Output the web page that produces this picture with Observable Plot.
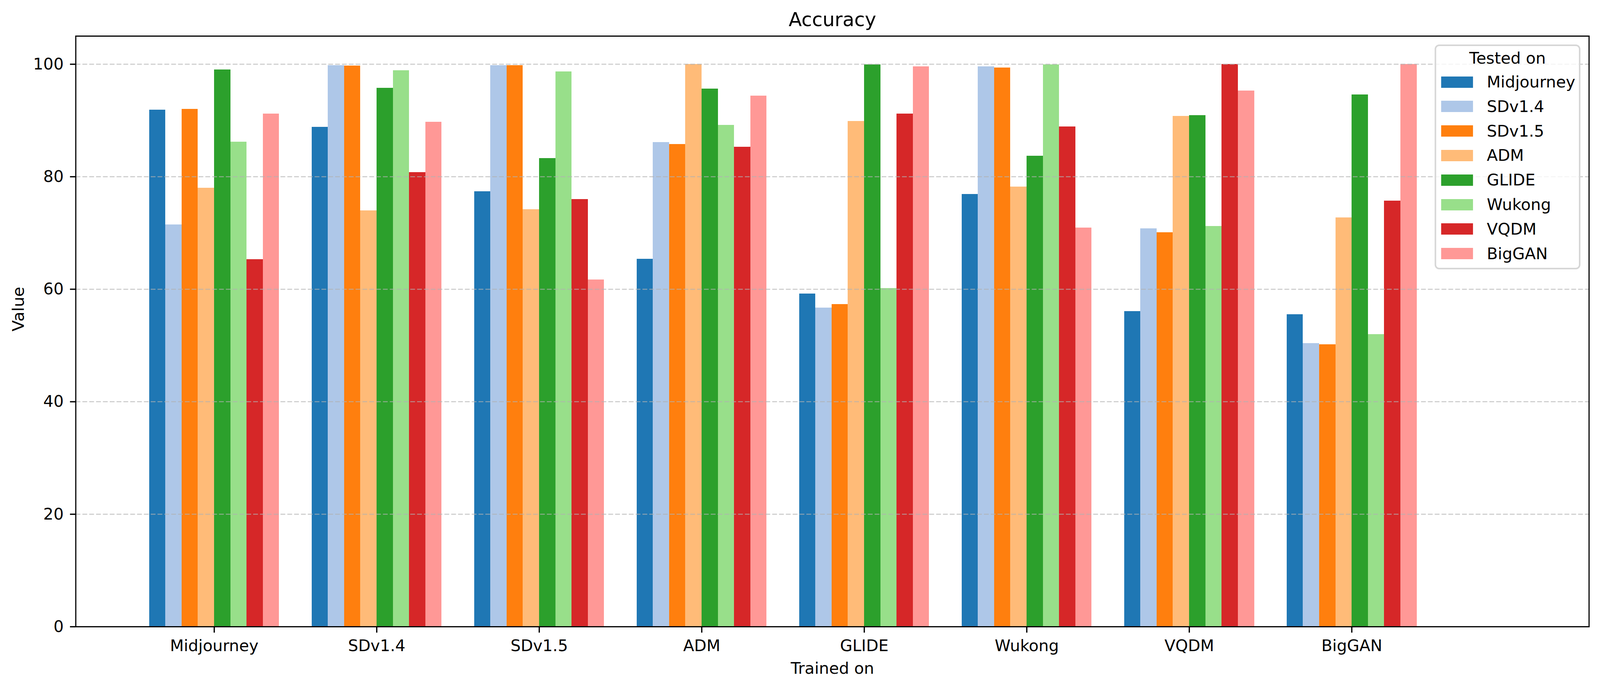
<!DOCTYPE html>
<html>
<head>
<meta charset="utf-8">
<script src="https://cdn.jsdelivr.net/npm/d3@7"></script>
<script src="https://cdn.jsdelivr.net/npm/@observablehq/plot@0.6"></script>
<style>
  html, body { margin: 0; padding: 0; background: white; overflow: hidden; }
  #wrap { position: absolute; left: 0; top: 0; width: 4170px; height: 1765px; transform-origin: 0 0;
    font-family: "DejaVu Sans", sans-serif; overflow: hidden; }
  #chart { position: absolute; left: 0; top: 0; width: 4170px; height: 1765px; }
  #chart svg { display: block; max-width: none !important; }
  #legend { position: absolute; left: 3739px; top: 114px; width: 372px; height: 568px;
    border: 4px solid #d6d6d6; border-radius: 12px; background: rgba(255,255,255,0.8); }
  .lg-title { position: absolute; left: 0; width: 100%; text-align: center; font-size: 41.7px; line-height: 1; }
  .lg-sw { position: absolute; left: 13px; width: 83px; height: 29px; }
  .lg-lab { position: absolute; left: 132px; font-size: 41.7px; line-height: 1; white-space: nowrap; }
</style>
</head>
<body>
<div id="wrap"><div id="chart"></div><div id="legend"></div></div>
<script>
const trainedOn = ["Midjourney", "SDv1.4", "SDv1.5", "ADM", "GLIDE", "Wukong", "VQDM", "BigGAN"];
const testedOn = ["Midjourney", "SDv1.4", "SDv1.5", "ADM", "GLIDE", "Wukong", "VQDM", "BigGAN"];
const colors = ["#1f77b4", "#aec7e8", "#ff7f0e", "#ffbb78", "#2ca02c", "#98df8a", "#d62728", "#ff9896"];
const yTicks = [0, 20, 40, 60, 80, 100];

// accuracy per trained-on group, in testedOn order
const trainedMidjourney = [91.9, 71.5, 92.0, 78.0, 99.0, 86.2, 65.3, 91.2];
const trainedSD14       = [88.8, 99.8, 99.7, 74.0, 95.8, 98.9, 80.8, 89.7];
const trainedSD15       = [77.4, 99.8, 99.8, 74.2, 83.3, 98.7, 76.0, 61.7];
const trainedADM        = [65.4, 86.1, 85.8, 100.0, 95.6, 89.2, 85.3, 94.4];
const trainedGLIDE      = [59.2, 56.7, 57.3, 89.9, 99.9, 60.2, 91.2, 99.6];
const trainedWukong     = [76.9, 99.6, 99.4, 78.2, 83.7, 99.9, 88.9, 70.9];
const trainedVQDM       = [56.1, 70.8, 70.1, 90.8, 90.9, 71.2, 100.0, 95.3];
const trainedBigGAN     = [55.5, 50.4, 50.2, 72.7, 94.6, 52.0, 75.7, 100.0];

const groups = [trainedMidjourney, trainedSD14, trainedSD15, trainedADM, trainedGLIDE, trainedWukong, trainedVQDM, trainedBigGAN];
const barW = 0.1;
const rows = [];
groups.forEach((vals, i) => {
  vals.forEach((v, j) => {
    const x1 = i - (testedOn.length * barW) / 2 + j * barW;
    rows.push({trained: trainedOn[i], tested: testedOn[j], x1, x2: x1 + barW, value: v});
  });
});

const chart = Plot.plot({
  width: 4170,
  height: 1765,
  marginLeft: 197,
  marginRight: 29,
  marginTop: 92,
  marginBottom: 160,
  style: {fontFamily: "DejaVu Sans", fontSize: "41.7px", background: "white", color: "black"},
  x: {domain: [-0.852, 8.46]},
  y: {domain: [0, 105]},
  color: {domain: testedOn, range: colors},
  marks: [
    Plot.rectY(rows, {x1: "x1", x2: "x2", y1: 0, y2: "value", fill: "tested", shapeRendering: "crispEdges"}),
    Plot.ruleY(yTicks, {stroke: "#b0b0b0", strokeOpacity: 0.7, strokeDasharray: "12.5,5.3", strokeWidth: 2.5}),
    Plot.frame({stroke: "black", strokeWidth: 3}),
    Plot.axisX({ticks: d3.range(trainedOn.length), tickFormat: i => trainedOn[i], tickSize: 15.6, tickPadding: 17, strokeWidth: 3.3, fontSize: 41.7, label: null}),
    Plot.axisY({ticks: yTicks, tickSize: 14.6, tickPadding: 17, strokeWidth: 3.3, fontSize: 41.7, label: null}),
    Plot.text(["Accuracy"], {frameAnchor: "top", dy: -42, lineAnchor: "middle", fontSize: 50}),
    Plot.text(["Trained on"], {frameAnchor: "bottom", dy: 107, lineAnchor: "middle", fontSize: 41.7}),
    Plot.text(["Value"], {frameAnchor: "left", dx: -149, rotate: -90, lineAnchor: "middle", fontSize: 41.7})
  ]
});
document.getElementById("chart").appendChild(chart);

const legend = document.getElementById("legend");
const t = document.createElement("div");
t.className = "lg-title";
t.textContent = "Tested on";
t.style.top = (35 - 4 - 21) + "px";
legend.appendChild(t);
testedOn.forEach((name, k) => {
  const cy = 96 + 62.8 * k - 4;
  const sw = document.createElement("div");
  sw.className = "lg-sw";
  sw.style.top = (cy - 14.5) + "px";
  sw.style.background = colors[k];
  legend.appendChild(sw);
  const lb = document.createElement("div");
  lb.className = "lg-lab";
  lb.style.top = (cy - 21) + "px";
  lb.textContent = name;
  legend.appendChild(lb);
});

function fit() {
  const w = document.documentElement.clientWidth || window.innerWidth;
  const h = document.documentElement.clientHeight || window.innerHeight;
  const sx = w / 4170, sy = h / 1765;
  document.getElementById("wrap").style.transform = `scale(${sx}, ${sy})`;
}
fit();
window.addEventListener("resize", fit);
</script>
</body>
</html>
